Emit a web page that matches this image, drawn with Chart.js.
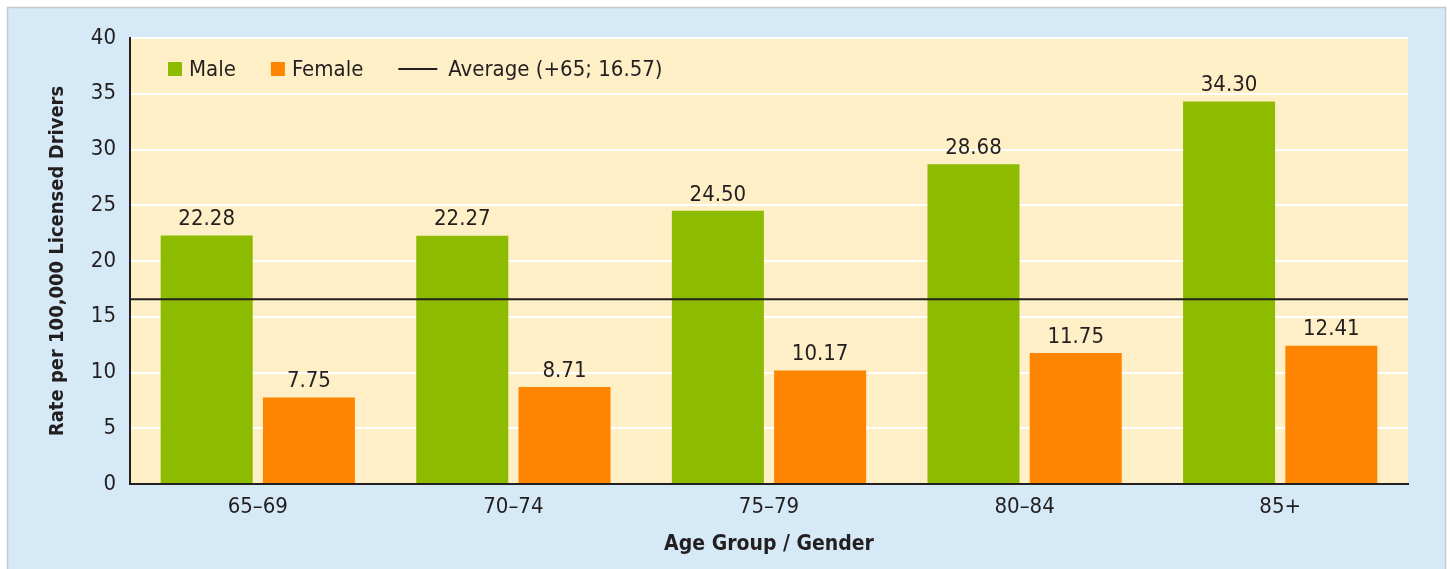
<!DOCTYPE html>
<html>
<head>
<meta charset="utf-8">
<script src="https://cdn.jsdelivr.net/npm/chart.js@4.4.1/dist/chart.umd.min.js"></script>
<style>
    html, body { margin: 0; padding: 0; background: #ffffff; }
    #wrap { width: 1450px; height: 569px; position: relative; }
</style>
</head>
<body>
<div id="wrap"><canvas id="chart" width="1450" height="569"></canvas></div>
<script>
const ageGroups = ['65\u201369', '70\u201374', '75\u201379', '80\u201384', '85+'];
const maleRates = [22.28, 22.27, 24.50, 28.68, 34.30];
const femaleRates = [7.75, 8.71, 10.17, 11.75, 12.41];
const averageRate = 16.57;
const averageLabel = 'Average (+65; ' + averageRate + ')';
const yTicks = [0, 5, 10, 15, 20, 25, 30, 35, 40];

const FONT = '"Liberation Sans Narrow", "DejaVu Sans Condensed", "Arial Narrow", sans-serif';
const INK = '#231f20';

// light blue frame + cream plot area
const backgroundPlugin = {
    id: 'backgrounds',
    beforeDraw(chart) {
        const { ctx, chartArea: a } = chart;
        ctx.save();
        ctx.fillStyle = '#d6e9f7';
        ctx.fillRect(7, 7, 1439, 570);
        ctx.strokeStyle = '#c6c8ca';
        ctx.lineWidth = 1.5;
        ctx.strokeRect(7.5, 7.5, 1438, 570);
        ctx.fillStyle = '#feefc7';
        ctx.fillRect(a.left, a.top, a.right - a.left, a.bottom - a.top);
        ctx.restore();
    }
};

// average line across the whole plot, placed with the y scale
const averageLine = {
    id: 'averageLine',
    afterDatasetsDraw(chart) {
        const { ctx, chartArea: a, scales: { y } } = chart;
        const py = y.getPixelForValue(averageRate);
        ctx.save();
        ctx.strokeStyle = INK;
        ctx.lineWidth = 2;
        ctx.beginPath();
        ctx.moveTo(a.left, py);
        ctx.lineTo(a.right, py);
        ctx.stroke();
        ctx.restore();
    }
};

// value labels above the bars
const valueLabels = {
    id: 'valueLabels',
    afterDatasetsDraw(chart) {
        const { ctx } = chart;
        ctx.save();
        ctx.font = '22px ' + FONT;
        ctx.fillStyle = INK;
        ctx.textAlign = 'center';
        ctx.textBaseline = 'bottom';
        chart.data.datasets.forEach((ds, i) => {
            chart.getDatasetMeta(i).data.forEach((bar, j) => {
                ctx.fillText(ds.data[j].toFixed(2), bar.x, bar.y - 5);
            });
        });
        ctx.restore();
    }
};

// legend drawn inside the plot area
const insideLegend = {
    id: 'insideLegend',
    afterDraw(chart) {
        const { ctx, chartArea: a } = chart;
        let x = a.left + 38;
        const y = a.top + 31;
        ctx.save();
        ctx.font = '22px ' + FONT;
        ctx.textBaseline = 'middle';
        ctx.textAlign = 'left';
        chart.data.datasets.forEach(ds => {
            ctx.fillStyle = ds.backgroundColor;
            ctx.fillRect(x, y - 7, 14, 14);
            x += 21;
            ctx.fillStyle = INK;
            ctx.fillText(ds.label, x, y + 1);
            x += ctx.measureText(ds.label).width + 35;
        });
        ctx.strokeStyle = INK;
        ctx.lineWidth = 2;
        ctx.beginPath();
        ctx.moveTo(x, y);
        ctx.lineTo(x + 39, y);
        ctx.stroke();
        x += 50;
        ctx.fillStyle = INK;
        ctx.fillText(averageLabel, x, y + 1);
        ctx.restore();
    }
};

const ctx = document.getElementById('chart').getContext('2d');
new Chart(ctx, {
    type: 'bar',
    data: {
        labels: ageGroups,
        datasets: [
            {
                label: 'Male',
                data: maleRates,
                backgroundColor: '#8dbb00'
            },
            {
                label: 'Female',
                data: femaleRates,
                backgroundColor: '#ff8400'
            }
        ]
    },
    options: {
        responsive: false,
        animation: false,
        layout: {
            padding: { left: 0, top: 38, right: 42, bottom: 0 }
        },
        plugins: {
            legend: { display: false },
            tooltip: { enabled: false }
        },
        scales: {
            x: {
                categoryPercentage: 0.8,
                barPercentage: 0.9,
                grid: { display: false, drawTicks: false },
                border: { display: true, color: INK, width: 2 },
                ticks: {
                    color: INK,
                    padding: 10,
                    font: { family: FONT, size: 22 }
                },
                title: {
                    display: true,
                    text: 'Age Group / Gender',
                    color: INK,
                    font: { family: FONT, size: 21, weight: 'bold' },
                    padding: { top: 0, bottom: 12 }
                },
                afterFit(scale) { scale.height = 85; }
            },
            y: {
                min: 0,
                max: 40,
                afterBuildTicks(scale) {
                    scale.ticks = yTicks.map(v => ({ value: v }));
                },
                grid: {
                    color: '#ffffff',
                    lineWidth: 2,
                    drawTicks: false
                },
                border: { display: true, color: INK, width: 2 },
                ticks: {
                    color: INK,
                    padding: 14,
                    font: { family: FONT, size: 22 }
                },
                title: {
                    display: true,
                    text: 'Rate per 100,000 Licensed Drivers',
                    color: INK,
                    font: { family: FONT, size: 20, weight: 'bold' },
                    padding: { top: 46, bottom: 0 }
                },
                afterFit(scale) { scale.width = 130; }
            }
        }
    },
    plugins: [backgroundPlugin, averageLine, valueLabels, insideLegend]
});
</script>
</body>
</html>
